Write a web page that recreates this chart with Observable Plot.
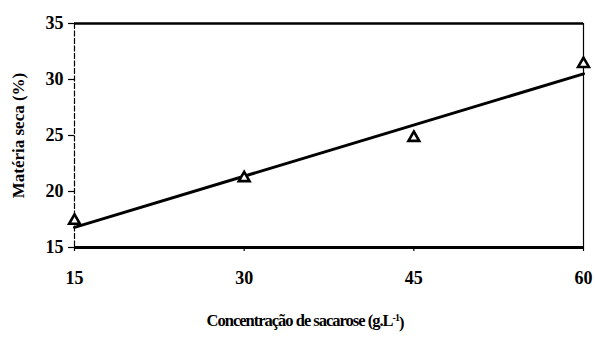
<!DOCTYPE html>
<html><head><meta charset="utf-8">
<script src="https://cdn.jsdelivr.net/npm/d3@7"></script>
<script src="https://cdn.jsdelivr.net/npm/@observablehq/plot@0.6"></script>
<style>
body{margin:0;background:#fff;}
svg, svg text{font-family:"Liberation Serif",serif !important;font-weight:bold !important;}
</style>
</head><body>
<div id="chart"></div>
<script>
const concentration = [15, 30, 45, 60];
const drySubstance = [17.4, 21.2, 24.8, 31.4];
const fitX = [15, 60];
const fitY = [16.8, 30.5];
const xTicks = [15, 30, 45, 60];
const yTicks = [15, 20, 25, 30, 35];
const xDomain = [15, 60];
const yDomain = [15, 35];
const xTitle = "Concentração de sacarose (g.L-1)";
const yTitle = "Matéria seca (%)";

const points = concentration.map((c, i) => ({x: c, y: drySubstance[i]}));
const fit = fitX.map((c, i) => ({x: c, y: fitY[i]}));

const chart = Plot.plot({
  width: 595, height: 337,
  marginLeft: 74, marginRight: 12, marginTop: 23, marginBottom: 90,
  style: {fontFamily: "Liberation Serif", background: "#fff", color: "#000"},
  x: {domain: xDomain, ticks: xTicks, label: null},
  y: {domain: yDomain, ticks: yTicks, label: null},
  marks: [
    Plot.ruleX([xDomain[0]], {stroke: "#000", strokeWidth: 1.2, strokeDasharray: "6,1.5"}),
    Plot.ruleX([xDomain[1]], {stroke: "#000", strokeWidth: 1.2}),
    Plot.ruleY([yDomain[1]], {stroke: "#000", strokeWidth: 2.5}),
    Plot.ruleY([yDomain[0]], {stroke: "#000", strokeWidth: 3}),
    Plot.axisY({ticks: yTicks, tickSize: 6, tickPadding: 5, fontSize: 18, label: null, stroke: "#000", strokeWidth: 1.2}),
    Plot.axisX({ticks: xTicks, tickSize: 4, tickPadding: 20, fontSize: 18, label: null, stroke: "#000", strokeWidth: 1.2}),
    Plot.line(fit, {x: "x", y: "y", stroke: "#000", strokeWidth: 3}),
    Plot.dot(points, {x: "x", y: "y", symbol: "triangle", r: 4, fill: "#fff", stroke: "#000", strokeWidth: 2.6}),
    Plot.text([xTitle], {frameAnchor: "bottom", dx: -24, dy: 78, fontSize: 16.5, text: d => d}),
    Plot.text([yTitle], {frameAnchor: "left", textAnchor: "middle", dx: -56, rotate: -90, fontSize: 17, text: d => d})
  ]
});
document.getElementById("chart").appendChild(chart);

// superscript for the unit
d3.select(chart).selectAll("text").each(function() {
  const t = d3.select(this);
  if (t.text() === xTitle) {
    t.text("").style("letter-spacing", "-1px");
    t.append("tspan").text("Concentração de sacarose (g.L");
    t.append("tspan").attr("dy", "-0.45em").attr("font-size", "10").text("-1");
    t.append("tspan").attr("dy", "0.45em").text(")");
  }
});
</script>
</body></html>
